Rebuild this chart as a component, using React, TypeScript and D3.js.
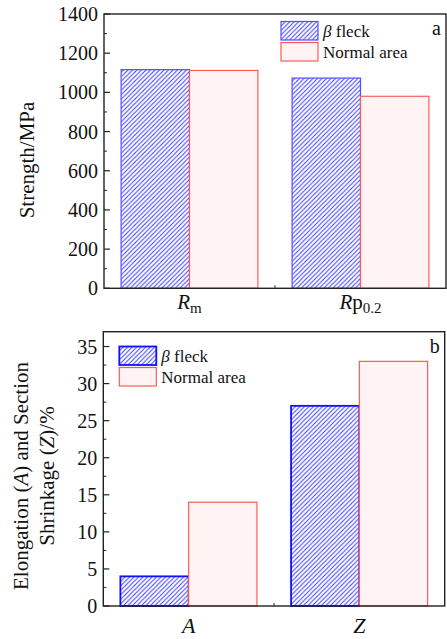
import React, { useRef, useEffect } from 'react';
import * as d3 from 'd3';

const strengthCategories = ['Rm', 'Rp0.2'];
const strengthFleck = [1116, 1073];
const strengthNormal = [1112, 980];

const ductilityCategories = ['A', 'Z'];
const ductilityFleck = [4, 27];
const ductilityNormal = [14, 33];

const seriesNames = ['β fleck', 'Normal area'];

const FONT = "'Liberation Serif', 'Times New Roman', serif";
const W = 447;
const H = 639;

function drawPanel(svg, opts) {
  const { top, bottom, left, right, yMax, major, minor, cats, fleck, normal, letter, legendX, legendY, fleckStroke, fleckStrokeW } = opts;
  const g = svg.append('g');

  const x = d3.scaleBand().domain(cats).range([left, right]).paddingInner(0).paddingOuter(0);
  const inner = d3.scaleBand().domain(seriesNames).range([0, x.bandwidth() * 0.8]);
  const y = d3.scaleLinear().domain([0, yMax]).range([bottom, top]);

  const rows = cats.map((c, i) => ({ cat: c, values: [fleck[i], normal[i]] }));

  // Bars
  rows.forEach(r => {
    const x0 = x(r.cat) + x.bandwidth() * 0.1;
    r.values.forEach((v, j) => {
      g.append('rect')
        .attr('x', x0 + inner(seriesNames[j]))
        .attr('y', y(v))
        .attr('width', inner.bandwidth())
        .attr('height', y(0) - y(v))
        .attr('fill', j === 0 ? 'url(#hatch)' : '#fff3f3')
        .attr('stroke', j === 0 ? fleckStroke : '#ff5a5a')
        .attr('stroke-width', j === 0 ? fleckStrokeW : 1.2);
    });
  });

  // Y axis ticks (inward)
  const majors = d3.range(0, yMax + 0.001, major);
  const minors = d3.range(0, yMax + 0.001, minor).filter(t => majors.indexOf(t) < 0);
  majors.forEach(t => {
    g.append('line').attr('x1', left).attr('x2', left + 6).attr('y1', y(t)).attr('y2', y(t))
      .attr('stroke', '#222').attr('stroke-width', 1.2);
    g.append('text').attr('x', left - 6).attr('y', y(t)).attr('dy', '0.35em')
      .attr('text-anchor', 'end').style('font-family', FONT).style('font-size', '20px')
      .attr('fill', '#111').text(t);
  });
  minors.forEach(t => {
    g.append('line').attr('x1', left).attr('x2', left + 3).attr('y1', y(t)).attr('y2', y(t))
      .attr('stroke', '#222').attr('stroke-width', 1);
  });

  // minor x tick between categories
  g.append('line').attr('x1', x(cats[1])).attr('x2', x(cats[1]))
    .attr('y1', bottom).attr('y2', bottom - 3).attr('stroke', '#222').attr('stroke-width', 1);

  // Frame
  g.append('rect').attr('x', left).attr('y', top).attr('width', right - left).attr('height', bottom - top)
    .attr('fill', 'none').attr('stroke', '#222').attr('stroke-width', 1.4);

  // Legend
  const lg = g.append('g').attr('transform', `translate(${legendX},${legendY})`);
  seriesNames.forEach((s, j) => {
    lg.append('rect').attr('x', 0).attr('y', j * 21).attr('width', 37).attr('height', 18.5)
      .attr('fill', j === 0 ? 'url(#hatch)' : '#fff3f3')
      .attr('stroke', j === 0 ? fleckStroke : '#ff5a5a')
      .attr('stroke-width', j === 0 ? fleckStrokeW : 1.2);
    const t = lg.append('text').attr('x', 42).attr('y', j * 21 + 15)
      .style('font-family', FONT).style('font-size', '17px').attr('fill', '#111');
    if (j === 0) {
      t.append('tspan').style('font-style', 'italic').text('β');
      t.append('tspan').text(' fleck');
    } else {
      t.text(s);
    }
  });

  g.append('text').attr('x', right - 5).attr('y', top + 21).attr('text-anchor', 'end')
    .style('font-family', FONT).style('font-size', '20px').attr('fill', '#111').text(letter);

  return { g, x, y };
}

function App() {
  const svgRef = useRef(null);

  useEffect(() => {
    const svg = d3.select(svgRef.current);
    svg.selectAll('*').remove();

    const defs = svg.append('defs');
    const pat = defs.append('pattern').attr('id', 'hatch')
      .attr('patternUnits', 'userSpaceOnUse').attr('width', 4.5).attr('height', 4.5);
    pat.append('rect').attr('width', 4.5).attr('height', 4.5).attr('fill', '#ffffff');
    pat.append('path').attr('d', 'M-1,1 l2,-2 M0,4.5 l4.5,-4.5 M3.5,5.5 l2,-2')
      .attr('stroke', '#3a3aff').attr('stroke-width', 1);

    // Panel a
    const a = drawPanel(svg, {
      top: 14, bottom: 288.3, left: 104, right: 446, yMax: 1400, major: 200, minor: 100,
      cats: strengthCategories, fleck: strengthFleck, normal: strengthNormal, letter: 'a',
      legendX: 281, legendY: 21.5, fleckStroke: '#5050ff', fleckStrokeW: 1.2
    });

    const t1 = a.g.append('text').attr('x', a.x('Rm') + a.x.bandwidth() / 2).attr('y', 309)
      .attr('text-anchor', 'middle').style('font-family', FONT).style('font-size', '21px').attr('fill', '#111');
    t1.append('tspan').style('font-style', 'italic').text('R');
    t1.append('tspan').style('font-size', '15px').attr('dy', 4).text('m');

    const t2 = a.g.append('text').attr('x', a.x('Rp0.2') + a.x.bandwidth() / 2).attr('y', 309)
      .attr('text-anchor', 'middle').style('font-family', FONT).style('font-size', '21px').attr('fill', '#111');
    t2.append('tspan').style('font-style', 'italic').text('R');
    t2.append('tspan').text('p');
    t2.append('tspan').style('font-size', '15px').attr('dy', 4).text('0.2');

    a.g.append('text').attr('transform', `translate(34,160) rotate(-90)`)
      .attr('text-anchor', 'middle').style('font-family', FONT).style('font-size', '21px').attr('fill', '#111')
      .text('Strength/MPa');

    // Panel b
    const b = drawPanel(svg, {
      top: 331.7, bottom: 606, left: 103.3, right: 444.7, yMax: 37, major: 5, minor: 2.5,
      cats: ductilityCategories, fleck: ductilityFleck, normal: ductilityNormal, letter: 'b',
      legendX: 119.3, legendY: 346.5, fleckStroke: '#1010ff', fleckStrokeW: 1.8
    });

    ductilityCategories.forEach(c => {
      b.g.append('text').attr('x', b.x(c) + b.x.bandwidth() / 2).attr('y', 633)
        .attr('text-anchor', 'middle').style('font-family', FONT).style('font-size', '22px')
        .style('font-style', 'italic').attr('fill', '#111').text(c);
    });

    const yl = b.g.append('text').attr('transform', `translate(0,476) rotate(-90)`)
      .attr('text-anchor', 'middle').style('font-family', FONT).style('font-size', '21px').attr('fill', '#111');
    const l1 = yl.append('tspan').attr('x', 0).attr('y', 28);
    l1.append('tspan').text('Elongation (');
    l1.append('tspan').style('font-style', 'italic').text('A');
    l1.append('tspan').text(') and Section');
    const l2 = yl.append('tspan').attr('x', 0).attr('y', 54);
    l2.append('tspan').text('Shrinkage (');
    l2.append('tspan').style('font-style', 'italic').text('Z');
    l2.append('tspan').text(')/%');
  }, []);

  return (
    <svg ref={svgRef} width={W} height={H}
      style={{ position: 'absolute', left: 0, top: 0, background: '#fff' }} />
  );
}

export default App;
